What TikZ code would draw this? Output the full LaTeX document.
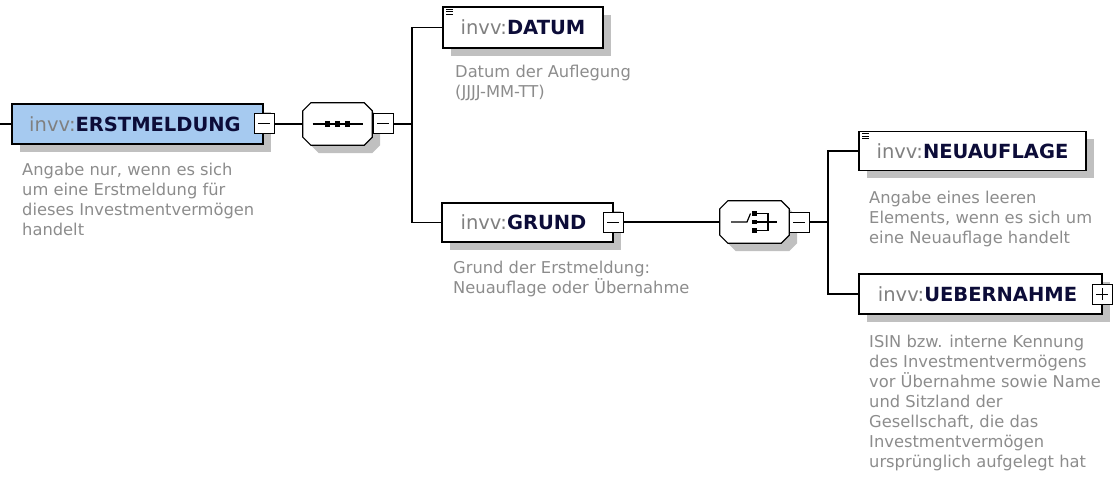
\documentclass[tikz,border=0pt]{standalone}
\usepackage{fontspec}
\setmainfont{DejaVu Sans}
\usetikzlibrary{shadows}
\definecolor{blueFill}{RGB}{166,202,240}
\definecolor{prefixGray}{RGB}{128,128,128}
\definecolor{nameNavy}{RGB}{12,12,56}
\definecolor{descGray}{RGB}{140,140,140}
\definecolor{shadowGray}{RGB}{192,192,192}
\newcommand\xsdname[1]{{\color{prefixGray}invv:}{\bfseries\color{nameNavy}#1}}
\tikzset{
  shadowed/.style={drop shadow={shadow xshift=8pt, shadow yshift=-8pt, fill=shadowGray, opacity=1}},
  elem/.style={draw=black, line width=1.4pt, fill=white, inner sep=0pt, shadowed,
    font=\fontsize{19.5}{23}\selectfont},
  minusbox/.style={draw=black, line width=1pt, fill=white, minimum size=20pt, inner sep=0pt,
    path picture={\draw[line width=1pt] ([xshift=4pt]path picture bounding box.west) -- ([xshift=-4pt]path picture bounding box.east);}},
  plusbox/.style={minusbox,
    path picture={\draw[line width=1pt] ([xshift=4pt]path picture bounding box.west) -- ([xshift=-4pt]path picture bounding box.east)
      ([yshift=-4pt]path picture bounding box.north) -- ([yshift=4pt]path picture bounding box.south);}},
  compbox/.style={minimum width=69pt, minimum height=42pt, inner sep=0pt},
  octline/.style={draw=black, line width=1.2pt, fill=white, shadowed},
  desc/.style={anchor=north west, inner sep=0pt, align=left, text=descGray,
    font=\fontsize{16.3}{20}\selectfont},
  conn/.style={draw=black, line width=1.3pt},
  icon/.style={draw=black, line width=0.9pt}
}
\begin{document}
\begin{tikzpicture}[x=1pt,y=-1pt]
\useasboundingbox (0,0) rectangle (1113,481);

% ---- ERSTMELDUNG
\node[elem, fill=blueFill, minimum width=251pt, minimum height=40pt] (erst) at (137.5,124) {\xsdname{ERSTMELDUNG}\hspace*{5pt}};
\node[minusbox] (erstm) at (264,124) {};
\node[desc] (erstd) at (22,163) {Angabe nur, wenn es sich\\um eine Erstmeldung für\\dieses Investmentvermögen\\handelt};
\coordinate (lstart) at (0,124);
\draw[conn] (lstart) -- (erst.west);

% ---- sequence compositor
\node[compbox] (seq) at (337.5,124) {};
\draw[octline] ([xshift=8pt]seq.north west) -- ([xshift=-8pt]seq.north east) -- ([yshift=-8pt]seq.north east)
  -- ([yshift=8pt]seq.south east) -- ([xshift=-8pt]seq.south east) -- ([xshift=8pt]seq.south west)
  -- ([yshift=8pt]seq.south west) -- ([yshift=-8pt]seq.north west) -- cycle;
\draw[line width=1.2pt] ([xshift=-25pt]seq.center) -- ([xshift=25pt]seq.center);
\foreach \dx in {-10,0,10}{
  \fill[black] ([shift={(\dx pt-2.6pt,-2.6pt)}]seq.center) rectangle ([shift={(\dx pt+2.6pt,2.6pt)}]seq.center);
}
\node[minusbox] (seqm) at (383,124) {};
\draw[conn] (erstm.east) -- (seq.west);
\coordinate (bus1) at (412,124);
\draw[conn] (seqm.east) -- (bus1);

% ---- DATUM
\node[elem, minimum width=160pt, minimum height=41pt] (datum) at (523,27.5) {\xsdname{DATUM}};
\foreach \dy in {3,5.5,8}{
  \draw[icon] ([shift={(4pt,-\dy pt)}]datum.north west) -- ++(7,0);
}
\node[desc] (datumd) at (455,65) {Datum der Auflegung\\(JJJJ-MM-TT)};
\draw[conn] (datum.west) -| (bus1);

% ---- GRUND
\node[elem, minimum width=171pt, minimum height=39pt] (grund) at (527.5,222.5) {\xsdname{GRUND}\hspace*{8pt}};
\node[minusbox] (grundm) at (613,222) {};
\node[desc] (grundd) at (453,261) {Grund der Erstmeldung:\\Neuauflage oder Übernahme};
\draw[conn] (bus1) |- (grund.west);

% ---- choice compositor
\node[compbox] (choice) at (754.5,222) {};
\draw[octline] ([xshift=8pt]choice.north west) -- ([xshift=-8pt]choice.north east) -- ([yshift=-8pt]choice.north east)
  -- ([yshift=8pt]choice.south east) -- ([xshift=-8pt]choice.south east) -- ([xshift=8pt]choice.south west)
  -- ([yshift=8pt]choice.south west) -- ([yshift=-8pt]choice.north west) -- cycle;
\draw[line width=1.2pt] ([xshift=-23.5pt]choice.center) -- ([xshift=-7.5pt]choice.center) -- ([shift={(-4pt,8.5pt)}]choice.center);
\foreach \dy in {-8.5,0,8.5}{
  \fill[black] ([shift={(-2.4pt,\dy pt-2.4pt)}]choice.center) rectangle ([shift={(2.4pt,\dy pt+2.4pt)}]choice.center);
}
\draw[line width=1.2pt] ([shift={(2.4pt,8.5pt)}]choice.center) -- ([shift={(13.5pt,8.5pt)}]choice.center)
  -- ([shift={(13.5pt,-8.5pt)}]choice.center) -- ([shift={(2.4pt,-8.5pt)}]choice.center);
\draw[line width=1.2pt] ([xshift=2.4pt]choice.center) -- ([xshift=22.5pt]choice.center);
\node[minusbox] (choicem) at (799,222) {};
\draw[conn] (grundm.east) -- (choice.west);
\coordinate (bus2) at (828,222);
\draw[conn] (choicem.east) -- (bus2);

% ---- NEUAUFLAGE
\node[elem, minimum width=227pt, minimum height=39pt] (neu) at (972.5,151) {\xsdname{NEUAUFLAGE}};
\foreach \dy in {3,5.5,8}{
  \draw[icon] ([shift={(4pt,-\dy pt)}]neu.north west) -- ++(7,0);
}
\node[desc] (neud) at (869,191) {Angabe eines leeren\\Elements, wenn es sich um\\eine Neuauflage handelt};
\draw[conn] (neu.west) -| (bus2);

% ---- UEBERNAHME
\node[elem, minimum width=243pt, minimum height=40pt] (ueber) at (980.5,294) {\xsdname{UEBERNAHME}\hspace*{6pt}};
\node[plusbox] (ueberp) at (1102,294) {};
\node[desc] (ueberd) at (869,335) {ISIN bzw. interne Kennung\\des Investmentvermögens\\vor Übernahme sowie Name\\und Sitzland der\\Gesellschaft, die das\\Investmentvermögen\\ursprünglich aufgelegt hat};
\draw[conn] (bus2) |- (ueber.west);
\end{tikzpicture}
\end{document}
